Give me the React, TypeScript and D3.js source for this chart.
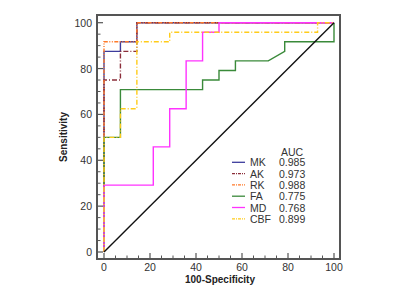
import React from "react";
import * as d3 from "d3";

const W = 400;
const H = 300;

// ROC data: x = 100-Specificity, y = Sensitivity
const seriesNames = ["MK", "AK", "RK", "FA", "MD", "CBF"];
const aucValues = ["0.985", "0.973", "0.988", "0.775", "0.768", "0.899"];

const mkX = [0, 0, 7.14, 7.14, 14.29, 14.29, 100];
const mkY = [0, 87.5, 87.5, 91.67, 91.67, 100, 100];

const akX = [0, 0, 7.14, 7.14, 14.29, 14.29, 100];
const akY = [0, 75, 75, 87.5, 87.5, 100, 100];

const rkX = [0, 0, 14.29, 14.29, 100];
const rkY = [0, 91.67, 91.67, 100, 100];

const faX = [0, 0, 7.14, 7.14, 42.86, 42.86, 50, 50, 57.14, 57.14, 71.43, 78.57, 78.57, 100, 100];
const faY = [0, 50, 50, 70.83, 70.83, 75, 75, 79.17, 79.17, 83.33, 83.33, 87.5, 91.67, 91.67, 100];

const mdX = [0, 0, 21.43, 21.43, 28.57, 28.57, 35.71, 35.71, 42.86, 42.86, 50, 50, 100];
const mdY = [0, 29.17, 29.17, 45.83, 45.83, 62.5, 62.5, 83.33, 83.33, 95.83, 95.83, 100, 100];

const cbfX = [0, 0, 7.14, 7.14, 14.29, 14.29, 28.57, 28.57, 92.86, 92.86, 100];
const cbfY = [0, 50, 50, 62.5, 62.5, 91.67, 91.67, 95.83, 95.83, 100, 100];

const refX = [0, 100];
const refY = [0, 100];

const majorTicks = [0, 20, 40, 60, 80, 100];

const seriesX = [mkX, akX, rkX, faX, mdX, cbfX];
const seriesY = [mkY, akY, rkY, faY, mdY, cbfY];
const seriesColors = ["#3c3c9c", "#8b2e3a", "#ff7a2a", "#3a8a3a", "#ff33ff", "#ffcc1a"];
const seriesDash = ["none", "5,2,1,2", "4,1.5,1,1.5,1,1.5", "none", "none", "5,2,1,2"];

export default function App() {
  const x = d3.scaleLinear().domain([0, 100]).range([104, 334]);
  const y = d3.scaleLinear().domain([0, 100]).range([252, 22.7]);
  const frame = { l: 97, r: 340, t: 15, b: 259 };

  const line = (xs: number[], ys: number[]) =>
    d3
      .line<number>()
      .x((_, i) => x(xs[i]))
      .y((_, i) => y(ys[i]))(xs) || "";

  const minor = d3.range(0, 101, 5).filter((v) => v % 20 !== 0);
  const font = "'Liberation Sans', Arial, sans-serif";
  const axisColor = "#555";

  const legX = 232;
  const legRow0 = 162.3;
  const legStep = 11.3;

  return (
    <svg width={W} height={H} style={{ position: "absolute", left: 0, top: 0 }} fontFamily={font}>
      <rect x={0} y={0} width={W} height={H} fill="#fff" />
      {/* curves */}
      {seriesNames.map((n, i) => (
        <path
          key={n}
          d={line(seriesX[i], seriesY[i])}
          fill="none"
          stroke={seriesColors[i]}
          strokeWidth={1.4}
          strokeDasharray={seriesDash[i]}
        />
      ))}
      <path d={line(refX, refY)} fill="none" stroke="#111" strokeWidth={1.4} />

      {/* frame */}
      <rect
        x={frame.l}
        y={frame.t}
        width={frame.r - frame.l}
        height={frame.b - frame.t}
        fill="none"
        stroke={axisColor}
        strokeWidth={2}
      />

      {/* y ticks */}
      {majorTicks.map((v) => (
        <g key={"y" + v}>
          <line x1={frame.l} x2={frame.l + 6} y1={y(v)} y2={y(v)} stroke={axisColor} strokeWidth={1.2} />
          <text x={92} y={y(v) + 4} textAnchor="end" fontSize={10.5} fill="#333">
            {v}
          </text>
        </g>
      ))}
      {minor.map((v) => (
        <line key={"ym" + v} x1={frame.l} x2={frame.l + 3.5} y1={y(v)} y2={y(v)} stroke={axisColor} strokeWidth={1} />
      ))}

      {/* x ticks */}
      {majorTicks.map((v) => (
        <g key={"x" + v}>
          <line x1={x(v)} x2={x(v)} y1={frame.b} y2={frame.b - 6} stroke={axisColor} strokeWidth={1.2} />
          <text x={x(v)} y={271} textAnchor="middle" fontSize={10.5} fill="#333">
            {v}
          </text>
        </g>
      ))}
      {minor.map((v) => (
        <line key={"xm" + v} x1={x(v)} x2={x(v)} y1={frame.b} y2={frame.b - 3.5} stroke={axisColor} strokeWidth={1} />
      ))}

      {/* axis titles */}
      <text x={220} y={283} textAnchor="middle" fontSize={10} fontWeight="bold" fill="#222">
        100-Specificity
      </text>
      <text
        transform={`translate(67,137) rotate(-90)`}
        textAnchor="middle"
        fontSize={10}
        fontWeight="bold"
        fill="#222"
      >
        Sensitivity
      </text>

      {/* legend */}
      <text x={281} y={155.5} fontSize={10.5} fill="#333">
        AUC
      </text>
      {seriesNames.map((n, i) => {
        const cy = legRow0 + i * legStep;
        return (
          <g key={"lg" + n}>
            <line
              x1={legX}
              x2={legX + 13}
              y1={cy}
              y2={cy}
              stroke={seriesColors[i]}
              strokeWidth={1.3}
              strokeDasharray={seriesDash[i] === "none" ? "none" : "3,1,1,1"}
            />
            <text x={250} y={cy + 4} fontSize={10.5} fill="#333">
              {n}
            </text>
            <text x={279} y={cy + 4} fontSize={10.5} fill="#333">
              {aucValues[i]}
            </text>
          </g>
        );
      })}
    </svg>
  );
}
